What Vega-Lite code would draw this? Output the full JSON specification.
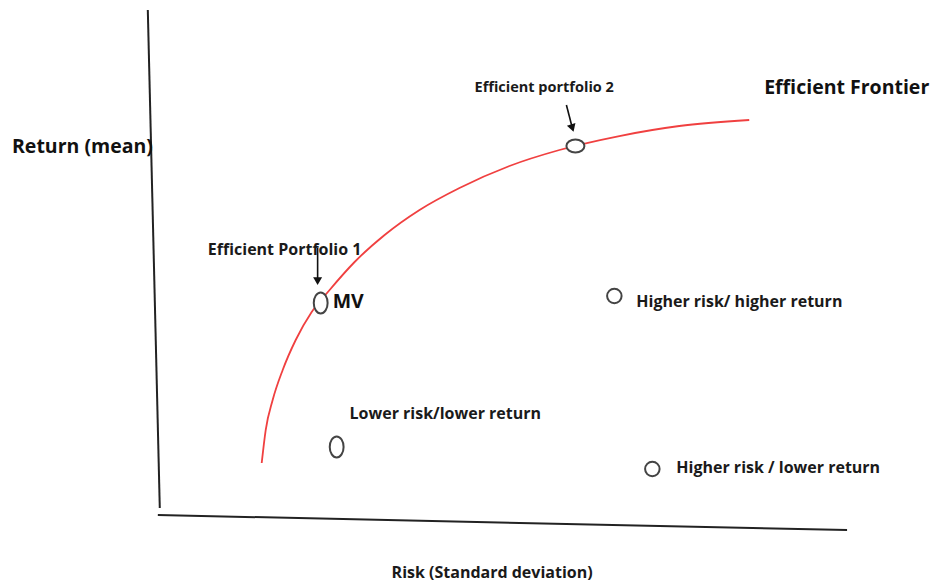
{
  "$schema": "https://vega.github.io/schema/vega-lite/v6.json",
  "width": 930,
  "height": 583,
  "autosize": {"type": "fit", "contains": "padding"},
  "padding": 0,
  "background": "white",
  "config": {"view": {"stroke": null}},
  "datasets": {
    "axes": [
      {"name": "return axis", "x": 15.91, "y": 98.28, "x2": 17.2, "y2": 12.86},
      {"name": "risk axis", "x": 16.99, "y": 11.66, "x2": 91.18, "y2": 9.09}
    ],
    "frontier": [
      {"risk": 28.17, "ret": 20.58},
      {"risk": 28.6, "ret": 26.24},
      {"risk": 29.35, "ret": 31.39},
      {"risk": 30.43, "ret": 36.54},
      {"risk": 31.83, "ret": 41.68},
      {"risk": 33.55, "ret": 46.48},
      {"risk": 35.48, "ret": 50.26},
      {"risk": 38.17, "ret": 55.06},
      {"risk": 41.4, "ret": 59.69},
      {"risk": 45.16, "ret": 63.98},
      {"risk": 49.46, "ret": 67.75},
      {"risk": 54.84, "ret": 71.53},
      {"risk": 60.22, "ret": 74.27},
      {"risk": 66.67, "ret": 76.67},
      {"risk": 73.12, "ret": 78.39},
      {"risk": 80.65, "ret": 79.42}
    ],
    "tall": [
      {"name": "MV", "risk": 34.52, "ret": 48.03},
      {"name": "Lower risk/lower return", "risk": 36.24, "ret": 23.33}
    ],
    "wide": [
      {"name": "Efficient portfolio 2", "risk": 61.94, "ret": 74.96}
    ],
    "round": [
      {"name": "Higher risk/ higher return", "risk": 66.13, "ret": 49.23},
      {"name": "Higher risk / lower return", "risk": 70.22, "ret": 19.55}
    ],
    "arrows": [
      {"name": "Efficient Portfolio 1", "x": 34.19, "y": 57.46, "x2": 34.19, "y2": 51.8},
      {"name": "Efficient portfolio 2", "x": 60.97, "y": 82.0, "x2": 61.61, "y2": 78.04}
    ],
    "labels": [
      {"text": "Efficient Portfolio 1", "x": 22.37, "y": 57.12},
      {"text": "Higher risk/ higher return", "x": 68.49, "y": 48.2},
      {"text": "Lower risk/lower return", "x": 37.63, "y": 28.99},
      {"text": "Higher risk / lower return", "x": 72.8, "y": 19.73},
      {"text": "Risk (Standard deviation)", "x": 42.15, "y": 1.72}
    ],
    "small": [
      {"text": "Efficient portfolio 2", "x": 51.08, "y": 84.91}
    ],
    "titles": [
      {"text": "Return (mean)", "x": 1.29, "y": 74.79},
      {"text": "Efficient Frontier", "x": 82.26, "y": 84.91},
      {"text": "MV", "x": 35.81, "y": 48.2}
    ]
  },
  "layer": [
    {
      "data": {"name": "axes"},
      "mark": {"type": "rule", "color": "#222222", "strokeWidth": 2},
      "encoding": {
        "x": {"field": "x", "type": "quantitative", "scale": {"domain": [0, 100], "nice": false, "zero": false}, "axis": null},
        "y": {"field": "y", "type": "quantitative", "scale": {"domain": [0, 100], "nice": false, "zero": false}, "axis": null},
        "x2": {"field": "x2"},
        "y2": {"field": "y2"}
      }
    },
    {
      "data": {"name": "frontier"},
      "mark": {"type": "line", "color": "#f04040", "strokeWidth": 1.8, "interpolate": "monotone"},
      "encoding": {
        "x": {"field": "risk", "type": "quantitative"},
        "y": {"field": "ret", "type": "quantitative"},
        "order": {"field": "risk", "type": "quantitative"}
      }
    },
    {
      "data": {"name": "tall"},
      "mark": {"type": "point", "shape": "M0,-1 A0.66,1 0 1,1 0,1 A0.66,1 0 1,1 0,-1 Z", "size": 441, "filled": true, "fill": "white", "stroke": "#444444", "strokeWidth": 2, "opacity": 1},
      "encoding": {
        "x": {"field": "risk", "type": "quantitative"},
        "y": {"field": "ret", "type": "quantitative"}
      }
    },
    {
      "data": {"name": "wide"},
      "mark": {"type": "point", "shape": "M-1,0 A1,0.72 0 1,1 1,0 A1,0.72 0 1,1 -1,0 Z", "size": 324, "filled": true, "fill": "white", "stroke": "#444444", "strokeWidth": 2, "opacity": 1},
      "encoding": {
        "x": {"field": "risk", "type": "quantitative"},
        "y": {"field": "ret", "type": "quantitative"}
      }
    },
    {
      "data": {"name": "round"},
      "mark": {"type": "point", "shape": "circle", "size": 210, "filled": true, "fill": "white", "stroke": "#444444", "strokeWidth": 2, "opacity": 1},
      "encoding": {
        "x": {"field": "risk", "type": "quantitative"},
        "y": {"field": "ret", "type": "quantitative"}
      }
    },
    {
      "data": {"name": "arrows"},
      "mark": {"type": "rule", "color": "#111111", "strokeWidth": 1.6},
      "encoding": {
        "x": {"field": "x", "type": "quantitative"},
        "y": {"field": "y", "type": "quantitative"},
        "x2": {"field": "x2"},
        "y2": {"field": "y2"}
      }
    },
    {
      "data": {"name": "arrows"},
      "transform": [{"filter": "datum.name === 'Efficient Portfolio 1'"}],
      "mark": {"type": "point", "shape": "triangle-down", "size": 80, "filled": true, "color": "#111111", "opacity": 1},
      "encoding": {
        "x": {"field": "x2", "type": "quantitative"},
        "y": {"field": "y2", "type": "quantitative"}
      }
    },
    {
      "data": {"name": "arrows"},
      "transform": [{"filter": "datum.name === 'Efficient portfolio 2'"}],
      "mark": {"type": "point", "shape": "triangle-down", "size": 80, "filled": true, "color": "#111111", "opacity": 1, "angle": 342},
      "encoding": {
        "x": {"field": "x2", "type": "quantitative"},
        "y": {"field": "y2", "type": "quantitative"}
      }
    },
    {
      "data": {"name": "labels"},
      "mark": {"type": "text", "align": "left", "baseline": "middle", "font": "Open Sans", "fontWeight": "bold", "fontSize": 16, "color": "#1a1a1a"},
      "encoding": {
        "x": {"field": "x", "type": "quantitative"},
        "y": {"field": "y", "type": "quantitative"},
        "text": {"field": "text"}
      }
    },
    {
      "data": {"name": "small"},
      "mark": {"type": "text", "align": "left", "baseline": "middle", "font": "Open Sans", "fontWeight": "bold", "fontSize": 14.5, "color": "#1a1a1a"},
      "encoding": {
        "x": {"field": "x", "type": "quantitative"},
        "y": {"field": "y", "type": "quantitative"},
        "text": {"field": "text"}
      }
    },
    {
      "data": {"name": "titles"},
      "mark": {"type": "text", "align": "left", "baseline": "middle", "font": "Open Sans", "fontWeight": "bold", "fontSize": 19.5, "color": "#111111"},
      "encoding": {
        "x": {"field": "x", "type": "quantitative"},
        "y": {"field": "y", "type": "quantitative"},
        "text": {"field": "text"}
      }
    }
  ]
}
